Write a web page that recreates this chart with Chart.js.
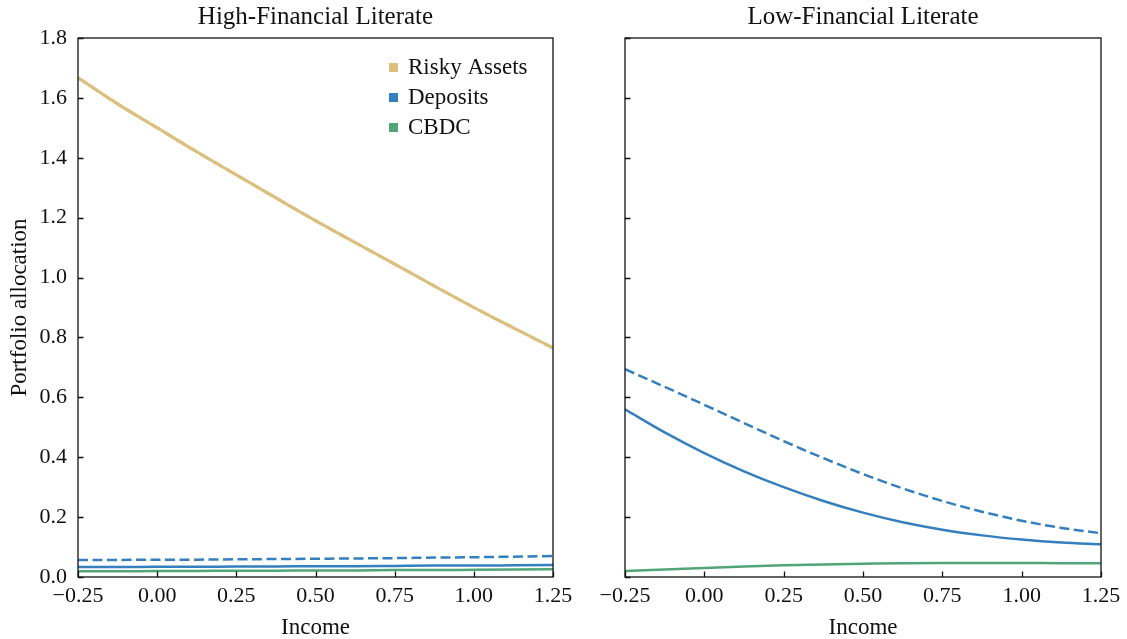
<!DOCTYPE html>
<html>
<head>
<meta charset="utf-8">
<script src="https://cdn.jsdelivr.net/npm/chart.js@4/dist/chart.umd.min.js"></script>
<style>
  html, body { margin: 0; padding: 0; background: #fff; }
  #wrap { position: relative; width: 1127px; height: 639px; }
  canvas { position: absolute; top: 0; }
  #left { left: 0; }
  #right { left: 580px; }
</style>
</head>
<body>
<div id="wrap">
  <canvas id="left" width="580" height="639"></canvas>
  <canvas id="right" width="547" height="639"></canvas>
</div>
<script>
// Income grid
const income = [-0.25, -0.125, 0, 0.125, 0.25, 0.375, 0.5, 0.625, 0.75, 0.875, 1.0, 1.125, 1.25];

// High-financial-literacy households
const highRisky      = [1.667, 1.580, 1.500, 1.420, 1.343, 1.266, 1.190, 1.117, 1.045, 0.972, 0.900, 0.832, 0.765];
const highDepositsA  = [0.057, 0.057, 0.058, 0.058, 0.059, 0.060, 0.061, 0.062, 0.063, 0.065, 0.066, 0.068, 0.070];
const highDepositsB  = [0.033, 0.033, 0.034, 0.034, 0.035, 0.035, 0.036, 0.036, 0.037, 0.038, 0.038, 0.039, 0.040];
const highCBDC       = [0.019, 0.019, 0.020, 0.020, 0.021, 0.021, 0.022, 0.022, 0.023, 0.023, 0.024, 0.025, 0.026];

// Low-financial-literacy households
const lowDepositsA   = [0.694, 0.635, 0.575, 0.514, 0.454, 0.397, 0.344, 0.296, 0.254, 0.218, 0.188, 0.164, 0.146];
const lowDepositsB   = [0.560, 0.483, 0.414, 0.353, 0.300, 0.254, 0.215, 0.183, 0.158, 0.139, 0.125, 0.115, 0.109];
const lowCBDC        = [0.020, 0.025, 0.030, 0.035, 0.039, 0.042, 0.044, 0.046, 0.047, 0.047, 0.047, 0.046, 0.046];

// Axis ticks
const xTicks = [-0.25, 0, 0.25, 0.5, 0.75, 1.0, 1.25];
const yTicks = [0, 0.2, 0.4, 0.6, 0.8, 1.0, 1.2, 1.4, 1.6, 1.8];

const legendLabels = ['Risky Assets', 'Deposits', 'CBDC'];

const C_RISKY = '#dcbf7e';
const C_DEP = '#347fbd';
const C_CBDC = '#52a577';
const FONT = "'Liberation Serif', 'Times New Roman', serif";
const DASH = [10, 4.5];

function pts(ys) { return income.map((x, i) => ({ x: x, y: ys[i] })); }

function line(data, color, dashed, width) {
  return {
    data: pts(data),
    borderColor: color,
    backgroundColor: color,
    borderWidth: width || 2.5,
    borderDash: dashed ? DASH : [],
    pointRadius: 0,
    cubicInterpolationMode: 'monotone',
    fill: false
  };
}

function fmtX(v) {
  const s = Number(v).toFixed(2);
  return s.replace('-', '\u2212');
}

// Box around the plot plus inward-pointing ticks on bottom and left
const framePlugin = {
  id: 'frame',
  afterDraw(chart) {
    const { ctx, chartArea: a, scales } = chart;
    ctx.save();
    ctx.strokeStyle = '#111';
    ctx.lineWidth = 1.3;
    ctx.strokeRect(a.left, a.top, a.right - a.left, a.bottom - a.top);
    ctx.beginPath();
    xTicks.forEach(v => {
      const px = Math.round(scales.x.getPixelForValue(v)) + 0.5;
      ctx.moveTo(px, a.bottom);
      ctx.lineTo(px, a.bottom - 5.5);
    });
    yTicks.forEach(v => {
      const py = Math.round(scales.y.getPixelForValue(v)) + 0.5;
      ctx.moveTo(a.left, py);
      ctx.lineTo(a.left + 5.5, py);
    });
    ctx.stroke();
    ctx.restore();
  }
};

// Legend inside the upper-right corner of the plot
const innerLegend = {
  id: 'innerLegend',
  afterDraw(chart, args, opts) {
    if (!opts.show) return;
    const { ctx, chartArea: a } = chart;
    const colors = [C_RISKY, C_DEP, C_CBDC];
    ctx.save();
    ctx.font = "23px " + FONT;
    ctx.textBaseline = 'middle';
    ctx.textAlign = 'left';
    legendLabels.forEach((t, i) => {
      const cy = a.top + 29 + i * 30;
      ctx.fillStyle = colors[i];
      ctx.fillRect(a.left + 311, cy - 4, 9, 9);
      ctx.fillStyle = '#111';
      ctx.fillText(t, a.left + 330, cy + 1);
    });
    ctx.restore();
  }
};

function makeChart(id, title, datasets, opts) {
  return new Chart(document.getElementById(id), {
    type: 'line',
    data: { datasets: datasets },
    plugins: [framePlugin, innerLegend],
    options: {
      responsive: false,
      animation: false,
      layout: { padding: { left: 0, right: opts.padRight, top: 0, bottom: 0 } },
      plugins: {
        legend: { display: false },
        tooltip: { enabled: false },
        title: {
          display: true,
          text: title,
          fullSize: false,
          color: '#111',
          font: { family: FONT, size: 25, weight: 'normal' },
          padding: { top: 2, bottom: 6 }
        },
        innerLegend: { show: opts.legend }
      },
      scales: {
        x: {
          type: 'linear',
          min: -0.25,
          max: 1.25,
          grid: { display: false },
          border: { display: false },
          afterBuildTicks(scale) { scale.ticks = xTicks.map(v => ({ value: v })); },
          afterFit(scale) { scale.height = 62; },
          ticks: {
            padding: 0,
            color: '#111',
            maxRotation: 0,
            autoSkip: false,
            font: { family: FONT, size: 22, lineHeight: 1 },
            callback: v => fmtX(v)
          },
          title: {
            display: true,
            text: 'Income',
            color: '#111',
            font: { family: FONT, size: 23, lineHeight: 1 },
            padding: { top: 0, bottom: 0 }
          }
        },
        y: {
          type: 'linear',
          min: 0,
          max: 1.8,
          grid: { display: false },
          border: { display: false },
          afterBuildTicks(scale) { scale.ticks = yTicks.map(v => ({ value: v })); },
          afterFit(scale) { scale.width = opts.yWidth; },
          ticks: {
            display: opts.yLabels,
            padding: 3,
            color: '#111',
            font: { family: FONT, size: 22 },
            callback: v => Number(v).toFixed(1)
          },
          title: {
            display: opts.yLabels,
            text: 'Portfolio allocation',
            color: '#111',
            font: { family: FONT, size: 23, lineHeight: 1 },
            padding: { top: 8, bottom: 0 }
          }
        }
      }
    }
  });
}

makeChart('left', 'High-Financial Literate', [
  line(highCBDC, C_CBDC, false),
  line(highDepositsB, C_DEP, false),
  line(highDepositsA, C_DEP, true),
  line(highRisky, C_RISKY, false, 3),
  line(highRisky, C_RISKY, true, 3)
], { padRight: 27, yWidth: 78, yLabels: true, legend: true });

makeChart('right', 'Low-Financial Literate', [
  line(lowCBDC, C_CBDC, false),
  line(lowDepositsB, C_DEP, false),
  line(lowDepositsA, C_DEP, true)
], { padRight: 26, yWidth: 45, yLabels: false, legend: false });
</script>
</body>
</html>
